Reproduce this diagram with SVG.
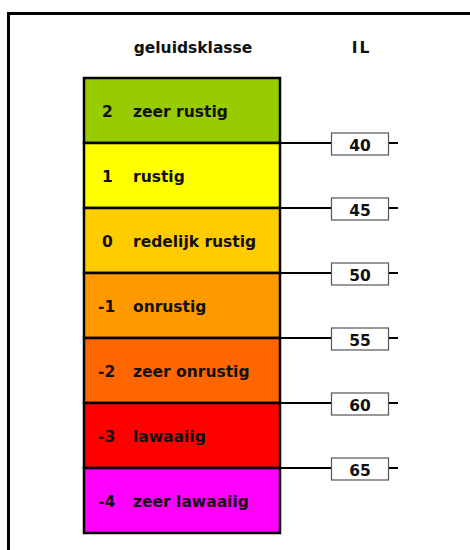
<svg xmlns="http://www.w3.org/2000/svg" width="470" height="550" viewBox="0 0 470 550">
<style>
text{font-family:"DejaVu Sans",Verdana,sans-serif;font-weight:bold;font-size:15.5px;fill:#111}
.seg{stroke:#000;stroke-width:2.5}
.lbl{fill:#fff;stroke:#555;stroke-width:1.2}
.tick{stroke:#000;stroke-width:2;fill:none}
.c{text-anchor:middle}
</style>
<rect width="470" height="550" fill="#fff"/>
<path d="M8.5 550 V13.5 H470" fill="none" stroke="#000" stroke-width="3"/>
<text x="193" y="52.5" class="c">geluidsklasse</text>
<text x="361.5" y="52.5" class="c" letter-spacing="2">IL</text>
<g id="k2"><rect class="seg" x="84" y="78" width="196" height="65" fill="#99cc00"/><text x="102" y="116.5">2</text><text x="133" y="116.5">zeer rustig</text></g>
<g id="k1"><rect class="seg" x="84" y="143" width="196" height="65" fill="#ffff00"/><text x="102" y="181.5">1</text><text x="133" y="181.5">rustig</text></g>
<g id="k0"><rect class="seg" x="84" y="208" width="196" height="65" fill="#ffcc00"/><text x="102" y="246.5">0</text><text x="133" y="246.5">redelijk rustig</text></g>
<g id="km1"><rect class="seg" x="84" y="273" width="196" height="65" fill="#ff9900"/><text x="98" y="311.5">-1</text><text x="133" y="311.5">onrustig</text></g>
<g id="km2"><rect class="seg" x="84" y="338" width="196" height="65" fill="#ff6600"/><text x="98" y="376.5">-2</text><text x="133" y="376.5">zeer onrustig</text></g>
<g id="km3"><rect class="seg" x="84" y="403" width="196" height="65" fill="#ff0000"/><text x="98" y="441.5">-3</text><text x="133" y="441.5">lawaaiig</text></g>
<g id="km4"><rect class="seg" x="84" y="468" width="196" height="65" fill="#ff00ff"/><text x="98" y="506.5">-4</text><text x="133" y="506.5">zeer lawaaiig</text></g>
<g id="connectors">
<path class="tick" d="M281 143H331M388 143H398M281 208H331M388 208H398M281 273H331M388 273H398M281 338H331M388 338H398M281 403H331M388 403H398M281 468H331M388 468H398"/>
</g>
<g id="il40"><rect class="lbl" x="331.5" y="133" width="57" height="22"/><text x="360" y="150.5" class="c">40</text></g>
<g id="il45"><rect class="lbl" x="331.5" y="198" width="57" height="22"/><text x="360" y="215.5" class="c">45</text></g>
<g id="il50"><rect class="lbl" x="331.5" y="263" width="57" height="22"/><text x="360" y="280.5" class="c">50</text></g>
<g id="il55"><rect class="lbl" x="331.5" y="328" width="57" height="22"/><text x="360" y="345.5" class="c">55</text></g>
<g id="il60"><rect class="lbl" x="331.5" y="393" width="57" height="22"/><text x="360" y="410.5" class="c">60</text></g>
<g id="il65"><rect class="lbl" x="331.5" y="458" width="57" height="22"/><text x="360" y="475.5" class="c">65</text></g>
</svg>
